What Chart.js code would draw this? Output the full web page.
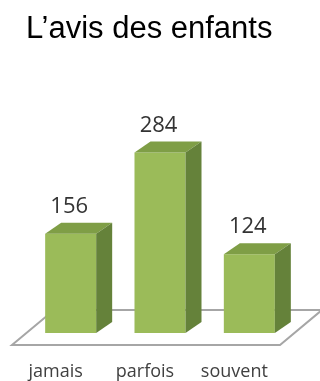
<!DOCTYPE html>
<html>
<head>
<meta charset="utf-8">
<script src="https://cdn.jsdelivr.net/npm/chart.js@4/dist/chart.umd.min.js"></script>
<style>
  html, body { margin: 0; padding: 0; background: #fff; }
  #wrap { width: 320px; height: 381px; position: relative; }
</style>
</head>
<body>
<div id="wrap"><canvas id="bar-chart"></canvas></div>
<script>
const categories = ['jamais', 'parfois', 'souvent'];
const values = [156, 284, 124];
const chartTitle = 'L\u2019avis des enfants';

// depth of the fake 3D boxes and of the floor
const depthX = 16, depthY = -11;

const bar3d = {
  id: 'bar3d',
  beforeDatasetsDraw(chart) {
    const { ctx, chartArea } = chart;
    const base = chart.scales.y.getPixelForValue(0);
    const front = base + 12, back = base - 23;
    ctx.save();
    ctx.strokeStyle = '#a6a6a6';
    ctx.lineWidth = 2;
    ctx.beginPath();
    ctx.moveTo(chartArea.left - 14, front);
    ctx.lineTo(chartArea.right - 14, front);
    ctx.lineTo(chartArea.right + 28, back);
    ctx.lineTo(chartArea.left + 28, back);
    ctx.closePath();
    ctx.stroke();
    ctx.restore();
  },
  afterDatasetsDraw(chart) {
    const { ctx } = chart;
    const meta = chart.getDatasetMeta(0);
    ctx.save();
    meta.data.forEach((bar, i) => {
      const w = bar.width;
      const x1 = bar.x - w / 2, x2 = bar.x + w / 2;
      const top = bar.y, base = bar.base;
      // top face
      ctx.fillStyle = '#7f9e46';
      ctx.beginPath();
      ctx.moveTo(x1, top);
      ctx.lineTo(x2, top);
      ctx.lineTo(x2 + depthX, top + depthY);
      ctx.lineTo(x1 + depthX, top + depthY);
      ctx.closePath();
      ctx.fill();
      // side face
      ctx.fillStyle = '#65823a';
      ctx.beginPath();
      ctx.moveTo(x2, top);
      ctx.lineTo(x2 + depthX, top + depthY);
      ctx.lineTo(x2 + depthX, base + depthY);
      ctx.lineTo(x2, base);
      ctx.closePath();
      ctx.fill();
      // value label
      ctx.fillStyle = '#333333';
      ctx.font = '22px "Open Sans"';
      ctx.textAlign = 'center';
      ctx.textBaseline = 'middle';
      ctx.fillText(String(values[i]), bar.x - 1.5, top - 27);
    });
    ctx.restore();
  }
};

const chart = new Chart(document.getElementById('bar-chart'), {
  type: 'bar',
  data: {
    labels: categories,
    datasets: [{
      data: values,
      backgroundColor: '#9bbb59',
      borderWidth: 0,
      barPercentage: 0.571,
      categoryPercentage: 1
    }]
  },
  options: {
    responsive: true,
    maintainAspectRatio: false,
    animation: false,
    layout: { padding: { left: 26, right: 26, top: 0, bottom: 0 } },
    plugins: {
      legend: { display: false },
      tooltip: { enabled: false },
      title: {
        display: true,
        text: chartTitle,
        align: 'start',
        color: '#000',
        font: { family: '"Liberation Sans", Arial', size: 31, weight: 'normal' },
        padding: { top: 11, bottom: 94 }
      }
    },
    scales: {
      x: {
        grid: { display: false, drawTicks: false },
        border: { display: false },
        afterFit(scale) { scale.height = 48; },
        ticks: {
          color: '#404040',
          font: { family: '"Open Sans"', size: 18 },
          padding: 28,
          labelOffset: -15
        }
      },
      y: {
        display: false,
        min: 0,
        max: 300
      }
    }
  },
  plugins: [bar3d]
});
</script>
</body>
</html>
